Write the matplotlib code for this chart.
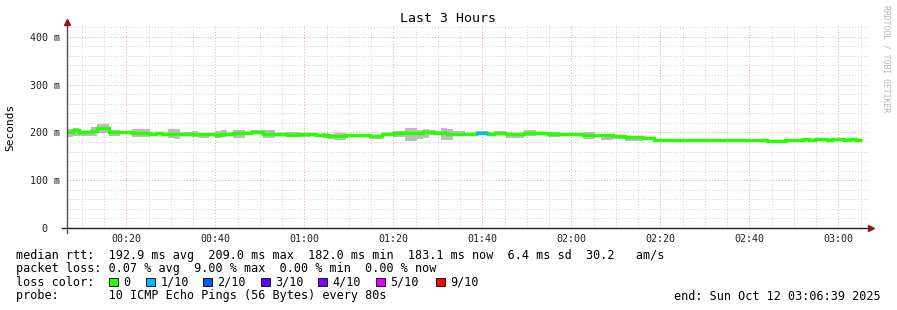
import matplotlib.pyplot as plt
from matplotlib.patches import Rectangle
import numpy as np

# one value per 80 s step, first step starts 00:06:40 (minutes after midnight)
step_min = 80 / 60
start_min = 6 + 40 / 60

median_ms = [201.5, 204, 201.5, 200, 202.5, 208.5, 208.5, 201.5, 200, 200, 200, 198, 198, 198, 197.5, 198, 197.5, 197.5, 197, 197, 197.5, 196, 197,
             197, 196, 194.5, 196, 196, 199, 199, 199, 201, 201, 197, 197, 197, 197, 194.5, 194.5, 196, 196, 196, 195, 195, 192,
             192, 192, 194.5, 194.5, 194.5, 194.5, 192, 192, 196, 196, 198, 198, 198, 199, 199, 200, 200, 199, 199, 197.5, 197.5, 197.5, 197,
             196.5, 199, 199, 196, 199.5, 199.5, 196.5, 196.5, 196.5, 199, 199, 199, 199, 197.5, 197.5, 197.5, 196, 196, 196, 194, 194, 194,
             194, 194, 192, 192, 189.5, 189.5, 189.5, 187.5, 187.5, 183.5, 183.5, 183.5, 183.5, 183.5, 183.5, 184, 184, 184, 184, 184, 184, 184,
             184.5, 184.5, 184.5, 184.5, 184.5, 184, 182, 182, 182, 183.5, 183.5, 184, 186, 184, 186, 186, 184, 185.5, 185.5, 184, 186, 184]

# smoke spread above / below the median (ms)
smoke_up = [6, 6, 2, 2, 9, 9, 9, 4, 4, 2, 2, 10, 10, 10, 2, 2, 2, 10, 10, 3, 3, 6, 2,
            2, 2, 8, 8, 2, 5, 5, 2, 3, 3, 7, 7, 2, 2, 6, 6, 2, 2, 2, 2, 4, 4,
            6, 6, 2, 2, 3, 3, 2, 2, 2, 2, 4, 4, 11, 11, 7, 7, 4, 4, 10, 10, 5, 5, 2,
            2, 4, 4, 2, 4, 4, 2, 2, 2, 5, 5, 2, 2, 3, 3, 2, 2, 2, 2, 6, 6, 2,
            3, 3, 3, 3, 3, 3, 3, 1, 1, 0, 0, 0, 0, 0, 0, 0, 0, 0, 0, 0, 0, 0,
            0, 0, 0, 0, 0, 0, 0, 0, 0, 0, 0, 0, 0, 0, 0, 0, 0, 0, 0, 0, 0, 0]
smoke_dn = [11, 11, 8, 8, 9, 9, 9, 8, 8, 3, 3, 8, 8, 8, 4, 4, 4, 10, 10, 4, 4, 6, 9,
            9, 2, 6, 6, 3, 10, 10, 3, 4, 4, 9, 9, 3, 3, 4, 4, 6, 6, 3, 3, 6, 6,
            8, 8, 5, 5, 5, 5, 6, 6, 4, 4, 8, 8, 16, 16, 12, 12, 5, 5, 14, 14, 6, 6, 3,
            3, 4, 4, 3, 5, 5, 8, 8, 8, 7, 7, 4, 4, 8, 8, 3, 3, 3, 3, 8, 8, 4,
            10, 10, 6, 6, 8, 8, 8, 2, 2, 0, 2, 2, 0, 0, 0, 0, 0, 0, 0, 0, 0, 0,
            0, 0, 0, 0, 0, 0, 0, 0, 0, 0, 0, 0, 0, 0, 0, 0, 0, 0, 0, 0, 0, 0]

loss_steps = [69, 70]
loss_of10 = [1, 1]

loss_keys = [0, 1, 2, 3, 4, 5, 9]
loss_cols = ['#26ff00', '#00b8ff', '#0059ff', '#5e00ff', '#7e00ff', '#dd00ff', '#ff0000']
loss_names = ['0', '1/10', '2/10', '3/10', '4/10', '5/10', '9/10']

x_ticks = [20, 40, 60, 80, 100, 120, 140, 160, 180]
x_labels = ['00:20', '00:40', '01:00', '01:20', '01:40', '02:00', '02:20', '02:40', '03:00']
y_ticks = [0, 100, 200, 300, 400]
y_labels = ['0  ', '100 m', '200 m', '300 m', '400 m']

W, H = 897, 310


def fx(x):
    return x / W


def fy(y):
    return 1 - y / H


plt.rcParams['font.family'] = ['DejaVu Sans Mono']
fig = plt.figure(figsize=(W / 100, H / 100), dpi=100)
ax = fig.add_axes([fx(67), fy(228), (868 - 67) / W, (228 - 26) / H])

n = len(median_ms)
t = start_min + step_min * np.arange(n + 1)
med = np.array(median_ms + [median_ms[-1]])
hi = med + np.array(smoke_up + [smoke_up[-1]])
lo = med - np.array(smoke_dn + [smoke_dn[-1]])

ax.fill_between(t, lo, hi, step='post', color='#bcbcbc', lw=0, zorder=2)
ax.step(t, med, where='post', color=loss_cols[0], lw=2.4, zorder=3,
        solid_joinstyle='miter', solid_capstyle='butt')
for s, l in zip(loss_steps, loss_of10):
    ax.hlines(median_ms[s], t[s], t[s + 1], colors=loss_cols[loss_keys.index(l)],
              lw=2.4, zorder=4, capstyle='butt')

ax.set_xlim(6 + 39 / 60, 186 + 39 / 60)
ax.set_ylim(0, 422.6)
ax.set_xticks(x_ticks)
ax.set_xticklabels(x_labels)
ax.set_xticks(np.arange(10, 186, 5), minor=True)
ax.set_yticks(y_ticks)
ax.set_yticklabels(y_labels)
ax.set_yticks(np.arange(20, 421, 20), minor=True)
ax.tick_params(which='both', length=0, labelsize=7.2, labelcolor='#202020')
ax.tick_params(axis='y', pad=5)
ax.tick_params(axis='x', pad=4)
ax.grid(which='minor', color='#cfcfcf', ls=(0, (1, 2)), lw=0.7)
ax.grid(which='major', color='#f0a0a0', ls=(0, (1, 2)), lw=0.7)
ax.set_axisbelow(True)
for sp in ax.spines.values():
    sp.set_visible(False)

# axes with arrows
ax.plot([-5 / 801, 1 + 1 / 801], [0, 0], transform=ax.transAxes, color='#202020',
        lw=1, clip_on=False, zorder=5)
ax.plot([0, 0], [-5 / 202, 1 + 3 / 202], transform=ax.transAxes, color='#505050',
        lw=1, clip_on=False, zorder=5)
ax.plot([1 + 3 / 801], [0], marker='>', ms=4, color='#8b1a1a', transform=ax.transAxes,
        clip_on=False, zorder=6)
ax.plot([0], [1 + 4 / 202], marker='^', ms=4, color='#8b1a1a', transform=ax.transAxes,
        clip_on=False, zorder=6)

fig.text(fx(448), fy(19), 'Last 3 Hours', ha='center', va='center', fontsize=9.5)
fig.text(fx(10), fy(127), 'Seconds', ha='center', va='center', rotation=90, fontsize=8)
fig.text(fx(886), fy(5), 'RRDTOOL / TOBI OETIKER', ha='center', va='top', rotation=-90,
         fontsize=5.8, color='#b8b8b8')

fs = 8.5
fig.text(fx(16), fy(255), 'median rtt:  192.9 ms avg  209.0 ms max  182.0 ms min  183.1 ms now  6.4 ms sd  30.2   am/s',
         ha='left', va='center', fontsize=fs)
fig.text(fx(16), fy(268.5), 'packet loss: 0.07 % avg  9.00 % max  0.00 % min  0.00 % now',
         ha='left', va='center', fontsize=fs)
fig.text(fx(16), fy(282), 'loss color:', ha='left', va='center', fontsize=fs)
sq_x = [109, 146, 203, 261, 318, 376, 436]
for x0, c, name in zip(sq_x, loss_cols, loss_names):
    fig.add_artist(Rectangle((fx(x0), fy(286)), 8.5 / W, 8.5 / H, transform=fig.transFigure,
                             fc=c, ec='black', lw=0.6))
    fig.text(fx(x0 + 14.5), fy(282), name, ha='left', va='center', fontsize=fs)
fig.text(fx(16), fy(296), 'probe:       10 ICMP Echo Pings (56 Bytes) every 80s',
         ha='left', va='center', fontsize=fs)
fig.text(fx(881), fy(296), 'end: Sun Oct 12 03:06:39 2025', ha='right', va='center', fontsize=fs)

fig.savefig('out.png', dpi=100)
